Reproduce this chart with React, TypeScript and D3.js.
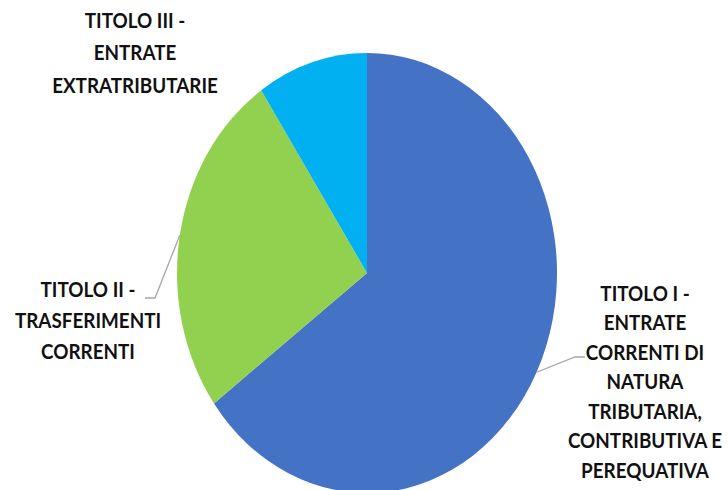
import React, { useEffect, useRef } from 'react';
import * as d3 from 'd3';

const categories = [
  'TITOLO I - ENTRATE CORRENTI DI NATURA TRIBUTARIA, CONTRIBUTIVA E PEREQUATIVA',
  'TITOLO II - TRASFERIMENTI CORRENTI',
  'TITOLO III - ENTRATE EXTRATRIBUTARIE',
];
const values = [64.9, 25.7, 9.4];
const colors = ['#4472C4', '#92D050', '#00B0F0'];

const labelLines = [
  ['TITOLO I -', 'ENTRATE', 'CORRENTI DI', 'NATURA', 'TRIBUTARIA,', 'CONTRIBUTIVA E', 'PEREQUATIVA'],
  ['TITOLO II -', 'TRASFERIMENTI', 'CORRENTI'],
  ['TITOLO III -', 'ENTRATE', 'EXTRATRIBUTARIE'],
];

interface Slice {
  name: string;
  value: number;
}

const width = 728;
const height = 490;
const cx = 367;
const cy = 273;
const rx = 190;
const ry = 220;

// label block placement: centre x, first baseline, line step, leader elbow
const labelPos = [
  { x: 645, y: 301, step: 29.5, elbow: [575, 357], textEnd: 585 },
  { x: 88, y: 297, step: 31, elbow: [155, 298], textEnd: 145 },
  { x: 135, y: 28, step: 32.5, elbow: null, textEnd: 0 },
];

export default function App() {
  const ref = useRef<SVGSVGElement>(null);

  useEffect(() => {
    const svg = d3.select(ref.current);
    svg.selectAll('*').remove();

    const data: Slice[] = categories.map((c, i) => ({ name: c, value: values[i] }));
    const pie = d3.pie<Slice>().sort(null).value((d) => d.value);
    const arcs = pie(data);
    const arc = d3.arc<d3.PieArcDatum<Slice>>().innerRadius(0).outerRadius(rx);

    const g = svg
      .append('g')
      .attr('transform', `translate(${cx},${cy}) scale(1,${ry / rx})`);

    g.selectAll('path')
      .data(arcs)
      .enter()
      .append('path')
      .attr('d', (d) => arc(d) as string)
      .attr('fill', (d, i) => colors[i])
      .attr('stroke', 'none');

    // leader lines
    arcs.forEach((d, i) => {
      const p = labelPos[i];
      if (!p.elbow) return;
      const mid = (d.startAngle + d.endAngle) / 2;
      const sx = cx + rx * Math.sin(mid);
      const sy = cy - ry * Math.cos(mid);
      svg
        .append('polyline')
        .attr('points', `${sx},${sy} ${p.elbow[0]},${p.elbow[1]} ${p.textEnd},${p.elbow[1]}`)
        .attr('fill', 'none')
        .attr('stroke', '#A6A6A6')
        .attr('stroke-width', 1.3);
    });

    // labels (slightly condensed to mimic Calibri)
    labelLines.forEach((lines, i) => {
      const p = labelPos[i];
      const t = svg
        .append('text')
        .attr('transform', `translate(${p.x},0) scale(0.92,1)`)
        .attr('text-anchor', 'middle')
        .style('font-family', 'Lato, "Open Sans", sans-serif')
        .style('font-weight', '700')
        .style('font-size', '20.5px')
        .style('fill', '#111');
      lines.forEach((line, j) => {
        t.append('tspan')
          .attr('x', 0)
          .attr('y', p.y + j * p.step)
          .text(line);
      });
    });
  }, []);

  return (
    <svg
      ref={ref}
      width={width}
      height={height}
      style={{ position: 'absolute', left: 0, top: 0, background: '#fff' }}
    />
  );
}
